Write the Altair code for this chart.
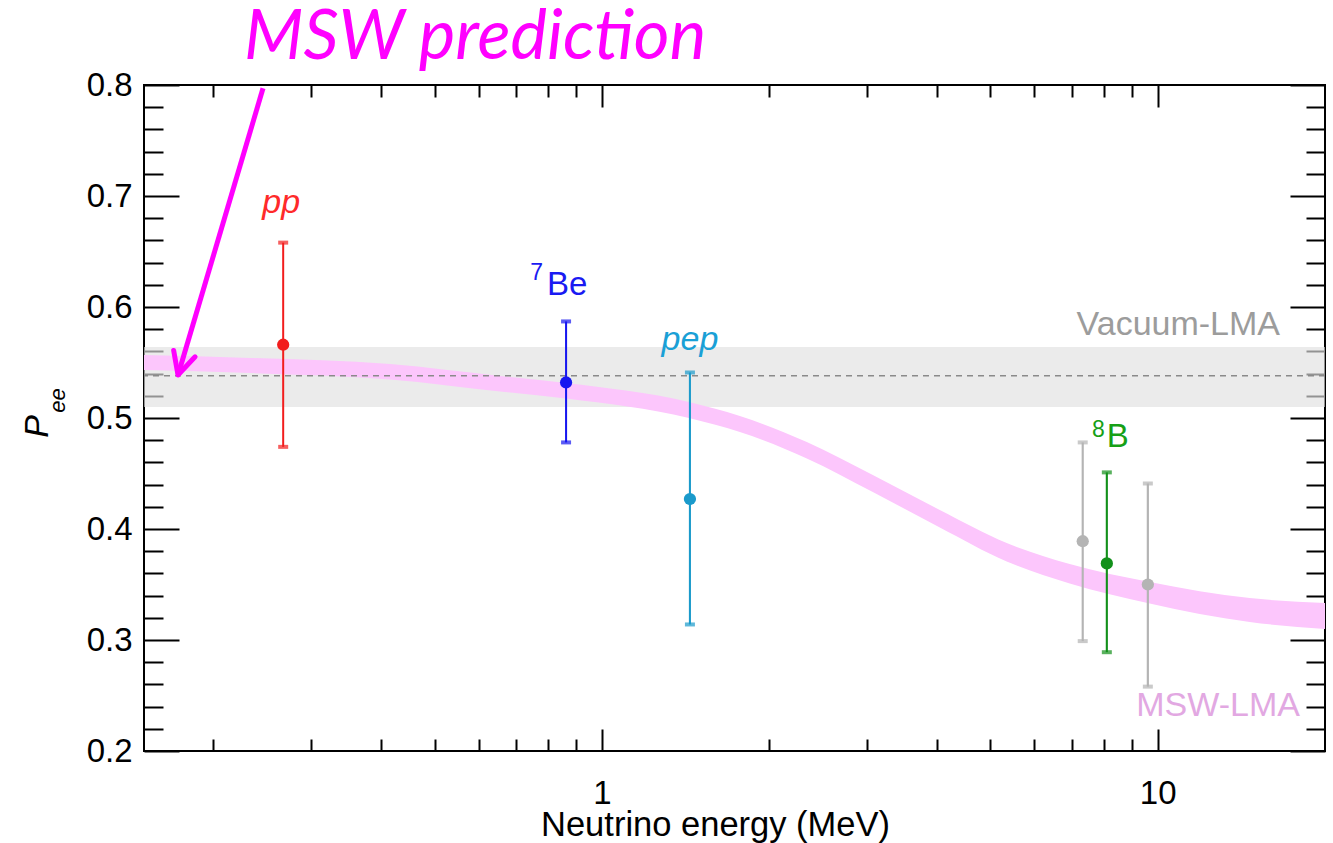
import altair as alt
import pandas as pd

# ---------------- data ----------------
E_MIN, E_MAX = 0.15, 20.0
P_MIN, P_MAX = 0.2, 0.8

names = ["pp", "7Be", "pep", "8B", "8B-a", "8B-b"]
energy = [0.267, 0.862, 1.44, 8.1, 7.33, 9.6]
p_val = [0.566, 0.532, 0.427, 0.369, 0.389, 0.350]
p_lo = [0.474, 0.478, 0.314, 0.289, 0.299, 0.258]
p_hi = [0.658, 0.587, 0.541, 0.451, 0.478, 0.441]

msw_e = [0.15, 0.233, 0.416, 0.656, 0.862, 1.434, 1.771, 2.337, 3.072, 4.055, 5.35, 6.945, 9.674, 14.64, 20.0]
msw_hi = [0.5568, 0.5541, 0.5486, 0.5378, 0.5315, 0.5144, 0.5018, 0.4784, 0.4486, 0.4171,
          0.3874, 0.3685, 0.3523, 0.3378, 0.3333]
msw_lo = [0.5432, 0.5405, 0.5347, 0.5239, 0.5176, 0.5000, 0.4874, 0.4635, 0.4333, 0.4014,
          0.3707, 0.3509, 0.3329, 0.3162, 0.3099]

vac_center = [0.538]
vac_lo = [0.510]
vac_hi = [0.564]

arrow_e = [0.2456, 0.1727]
arrow_p = [0.797, 0.5387]

x_major = [1, 10]
x_ticks = [0.2, 0.3, 0.4, 0.5, 0.6, 0.7, 0.8, 0.9, 1, 2, 3, 4, 5, 6, 7, 8, 9, 10]
y_major = [0.2, 0.3, 0.4, 0.5, 0.6, 0.7, 0.8]
y_ticks = [round(0.2 + 0.02 * i, 2) for i in range(31)]

# ---------------- styles ----------------
W, H = 1181, 666
FONT = "Liberation Sans, Arial, Helvetica, sans-serif"
colors = ["#f21d1d", "#1616f0", "#1a9acb", "#12901a", "#b4b4b4", "#b4b4b4"]
widths = [2, 2.2, 3.5, 3.5, 3.5, 3.5]

pts = pd.DataFrame({"name": names, "e": energy, "p": p_val, "lo": p_lo, "hi": p_hi})
msw = pd.DataFrame({"e": msw_e, "lo": msw_lo, "hi": msw_hi})
vac = pd.DataFrame({"x0": [E_MIN], "x1": [E_MAX], "lo": vac_lo, "hi": vac_hi, "c": vac_center})
arrow = pd.DataFrame({"e": [arrow_e[0]], "p": [arrow_p[0]], "e2": [arrow_e[1]], "p2": [arrow_p[1]]})

xs = alt.Scale(type="log", domain=[E_MIN, E_MAX], nice=False)
ys = alt.Scale(domain=[P_MIN, P_MAX], nice=False, zero=False)
color_scale = alt.Scale(domain=names, range=colors)
width_scale = alt.Scale(domain=names, range=widths)

Y_MAJOR_TEST = "abs(datum.value*10 - round(datum.value*10)) < 0.001"
X_MAJOR_TEST = "datum.value == 1 || datum.value == 10"
y_tick_size = {"condition": {"test": Y_MAJOR_TEST, "value": 35}, "value": 19}
x_tick_size = {"condition": {"test": X_MAJOR_TEST, "value": 22}, "value": 12}


def X(field, axis=None):
    return alt.X(field, type="quantitative", scale=xs, axis=axis)


def Y(field, axis=None):
    return alt.Y(field, type="quantitative", scale=ys, axis=axis)


# ---------------- axes layers ----------------
ax_x_labels = alt.Axis(values=x_major, format="d", ticks=False, tickSize=0, domain=False, grid=False,
                       labelFont=FONT, labelFontSize=33, labelColor="black", labelPadding=26,
                       title="Neutrino energy (MeV)", titleFont=FONT, titleFontSize=34.5,
                       titleFontWeight="normal", titleColor="black", titleX=571, titleY=84,
                       titleAlign="center", titleBaseline="alphabetic")
ax_y_labels = alt.Axis(values=y_major, format=".1f", ticks=False, tickSize=0, domain=False, grid=False,
                       labelFont=FONT, labelFontSize=33, labelColor="black", labelPadding=12,
                       title="P", titleFont=FONT, titleFontSize=34, titleFontStyle="italic",
                       titleFontWeight="normal", titleColor="black", titleAngle=270,
                       titleX=-107, titleY=341, titleAlign="center", titleBaseline="middle")


def tick_axis(orient, offset, values, size, title=None, **kw):
    return alt.Axis(orient=orient, offset=offset, values=values, labels=False, domain=False, grid=False,
                    ticks=True, tickColor="black", tickWidth=2, tickSize=size, title=title, **kw)


ax_x_bottom_in = tick_axis("top", -H, x_ticks, x_tick_size)
ax_x_top_in = tick_axis("bottom", -H, x_ticks, x_tick_size)
ax_y_left_in = tick_axis("right", -W, y_ticks, y_tick_size, title="ee",
                         titleFont=FONT, titleFontSize=22, titleFontStyle="italic",
                         titleFontWeight="normal", titleColor="black", titleAngle=270,
                         titleX=-87, titleY=315, titleAlign="center", titleBaseline="middle")
ax_y_right_in = tick_axis("left", -W, y_ticks, y_tick_size)

axes1 = alt.Chart(pts).mark_point(opacity=0).encode(x=X("e", ax_x_labels), y=Y("p", ax_y_labels))
axes2 = alt.Chart(pts).mark_point(opacity=0).encode(x=X("e", ax_x_bottom_in), y=Y("p", ax_y_left_in))
axes3 = alt.Chart(pts).mark_point(opacity=0).encode(x=X("e", ax_x_top_in), y=Y("p", ax_y_right_in))

# ---------------- marks ----------------
vac_band = alt.Chart(vac).mark_rect(color="#e0e0e0", opacity=0.65).encode(
    x=X("x0"), x2="x1:Q", y=Y("lo"), y2="hi:Q")
vac_line = alt.Chart(vac).mark_rule(color="#8a8a8a", strokeDash=[6, 5], strokeWidth=1.6).encode(y=Y("c"))
msw_band = alt.Chart(msw).mark_area(color="#fcc6fc", interpolate="monotone").encode(
    x=X("e"), y=Y("lo"), y2="hi:Q")

bars = alt.Chart(pts).mark_rule().encode(
    x=X("e"), y=Y("lo"), y2="hi:Q",
    color=alt.Color("name:N", scale=color_scale, legend=None),
    strokeWidth=alt.StrokeWidth("name:N", scale=width_scale, legend=None))
cap_lo = alt.Chart(pts).mark_tick(orient="horizontal", size=10, thickness=4).encode(
    x=X("e"), y=Y("lo"), color=alt.Color("name:N", scale=color_scale, legend=None))
cap_hi = alt.Chart(pts).mark_tick(orient="horizontal", size=10, thickness=4).encode(
    x=X("e"), y=Y("hi"), color=alt.Color("name:N", scale=color_scale, legend=None))
dots = alt.Chart(pts).mark_circle(size=150, opacity=1).encode(
    x=X("e"), y=Y("p"), color=alt.Color("name:N", scale=color_scale, legend=None))


def label(name, text, dx, dy, size, color, italic=False, align="center"):
    return alt.Chart(pts).transform_filter(alt.datum.name == name).mark_text(
        text=text, dx=dx, dy=dy, fontSize=size, font=FONT, color=color,
        fontStyle="italic" if italic else "normal", align=align, baseline="alphabetic"
    ).encode(x=X("e"), y=Y("hi"))


lab_pp = label("pp", "pp", -2, -30, 34, "#ff2a2a", italic=True)
lab_be = label("7Be", "Be", -19, -26, 33, "#1a1af2", align="left")
lab_be7 = label("7Be", "7", -23, -41, 23, "#1a1af2", align="right")
lab_pep = label("pep", "pep", 0, -22, 34, "#1aa0d6", italic=True)
lab_b = label("8B", "B", 0, -25, 33, "#16a016", align="left")
lab_b8 = label("8B", "8", -2, -35, 23, "#16a016", align="right")

lab_vac = alt.Chart(vac).mark_text(text="Vacuum-LMA", dx=-45, dy=-12, fontSize=34, font=FONT,
                                   color="#9c9c9c", align="right", baseline="alphabetic").encode(
    x=X("x1"), y=Y("hi"))
lab_msw = alt.Chart(msw).transform_filter(alt.datum.e >= E_MAX).mark_text(
    text="MSW-LMA", dx=-25, dy=87, fontSize=34, font=FONT, color="#e2a8e2",
    align="right", baseline="alphabetic").encode(x=X("e"), y=Y("lo"))

arrow_line = alt.Chart(arrow).mark_rule(color="#ff00ff", strokeWidth=5).encode(
    x=X("e"), y=Y("p"), x2="e2:Q", y2="p2:Q")
arrow_head = alt.Chart(arrow).mark_point(
    shape="M -0.5 -1 L 0 0 L 0.5 -1", filled=False, stroke="#ff00ff", strokeWidth=5,
    size=2000, angle=16.5, opacity=1, strokeCap="round", strokeJoin="round").encode(
    x=X("e2"), y=Y("p2"))
arrow_text = alt.Chart(arrow).mark_text(
    text="MSW prediction", dx=-19, dy=-29, font="Lato", fontSize=69, fontStyle="italic",
    color="#ff00ff", align="left", baseline="alphabetic").encode(x=X("e"), y=Y("p"))

chart = alt.layer(
    axes1, axes2, axes3,
    vac_band, msw_band, vac_line,
    bars, cap_lo, cap_hi, dots,
    lab_pp, lab_be, lab_be7, lab_pep, lab_b, lab_b8, lab_vac, lab_msw,
    arrow_line, arrow_head, arrow_text,
).resolve_axis(x="independent", y="independent").properties(
    width=W, height=H,
    autosize=alt.AutoSizeParams(type="none"),
    padding={"left": 144, "top": 85, "right": 1333 - 144 - W, "bottom": 843 - 85 - H},
).configure_view(stroke="black", strokeWidth=2)

chart.save("out.html", embed_options={"renderer": "svg", "actions": False})
